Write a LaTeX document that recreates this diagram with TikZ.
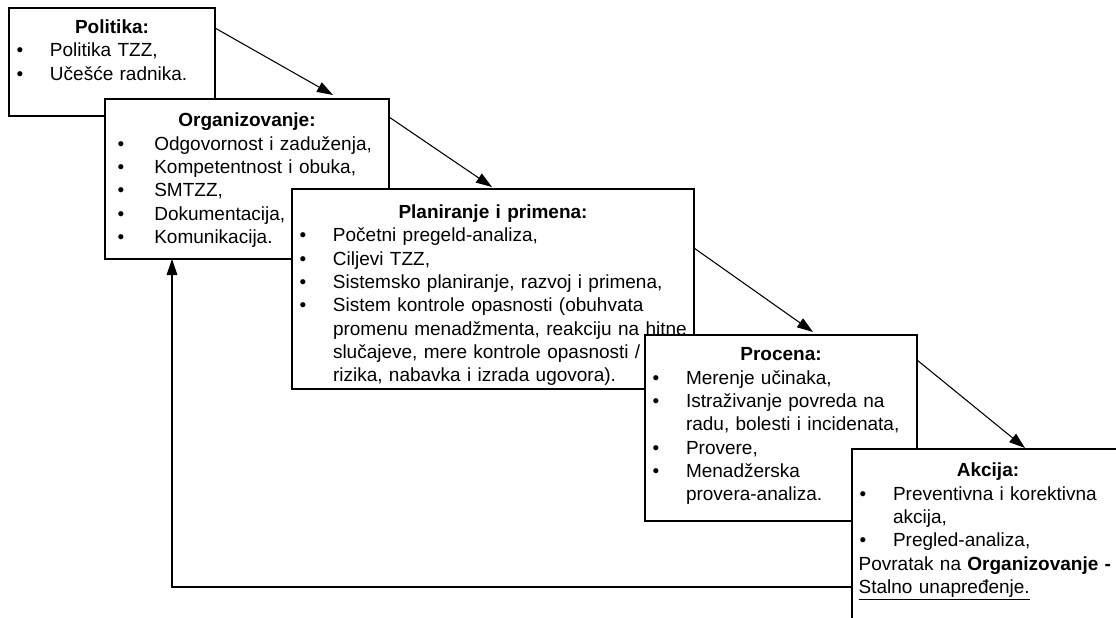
\documentclass[tikz,border=0pt]{standalone}
\usepackage{fontspec}
\setmainfont{Liberation Sans}
\usetikzlibrary{arrows.meta,positioning,calc}
\tikzset{
  box/.style={draw=black, line width=0.8pt, fill=white, anchor=north west, outer sep=0pt,
    inner xsep=4pt, inner ysep=0pt, align=left, font=\fontsize{14.25}{17.5}\selectfont},
  arrow/.style={-{Triangle[length=12pt,width=8pt]}, line width=0.8pt},
}
\newcommand{\bul}[1][1.75pt]{\makebox[26.75pt][l]{\hspace{#1}\textbullet}}
\newcommand{\cont}{\hspace*{26.75pt}}
\newcommand{\ttl}[1]{\hfill\textbf{#1}\hfill\null}

\begin{document}
\begin{tikzpicture}[x=0.75pt,y=-0.75pt]
  \useasboundingbox (0,0) rectangle (1116,617);
  \clip (0,0) rectangle (1116,617);

  % the five steps
  \node[box, text width=146.5pt, text height=19.1pt, text depth=61.9pt] (pol) at (9,8)
    {\ttl{Politika:}\\
     \bul Politika TZZ,\\
     \bul Učešće radnika.};
  \node[box, inner xsep=5.5pt, text width=202pt, text height=20.9pt, text depth=99.1pt] (org) at (105,99)
    {\ttl{Organizovanje:}\\
     \bul[4pt] Odgovornost i zaduženja,\\
     \bul[4pt] Kompetentnost i obuka,\\
     \bul[4pt] SMTZZ,\\
     \bul[4pt] Dokumentacija,\\
     \bul[4pt] Komunikacija.};
  \node[box, text width=293.5pt, text height=22.1pt, text depth=127.9pt] (plan) at (292,189)
    {\ttl{Planiranje i primena:}\\
     \bul Početni pregeld-analiza,\\
     \bul Ciljevi TZZ,\\
     \bul Sistemsko planiranje, razvoj i primena,\\
     \bul Sistem kontrole opasnosti (obuhvata\\
     \cont promenu menadžmenta, reakciju na hitne\\
     \cont slučajeve, mere kontrole opasnosti /\\
     \cont rizika, nabavka i izrada ugovora).};
  \node[box, text width=196pt, text height=19.4pt, text depth=120.1pt] (proc) at (645,335)
    {\ttl{Procena:}\\
     \bul Merenje učinaka,\\
     \bul Istraživanje povreda na\\
     \cont radu, bolesti i incidenata,\\
     \bul Provere,\\
     \bul Menadžerska\\
     \cont provera-analiza.};
  \node[box, text width=196pt, text height=20.9pt, text depth=129.1pt] (akc) at (852,449)
    {\ttl{Akcija:}\\
     \bul Preventivna i korektivna\\
     \cont akcija,\\
     \bul Pregled-analiza,\\
     \hspace*{1pt}Povratak na \textbf{Organizovanje -}\\
     \hspace*{1pt}\underline{Stalno unapređenje.}};

  % arrows
  \draw[arrow] ([yshift=-15pt]pol.north east) -- ([xshift=171pt,yshift=3pt]org.north west);
  \draw[arrow] ([yshift=-13.5pt]org.north east) -- ([xshift=150pt,yshift=1.5pt]plan.north west);
  \draw[arrow] ([yshift=-44.25pt]plan.north east) -- ([xshift=126pt,yshift=2.25pt]proc.north west);
  \draw[arrow] ([yshift=-18.75pt]proc.north east) -- ([xshift=129.75pt,yshift=0.75pt]akc.north west);
  \draw[arrow] ([yshift=-103.5pt]akc.north west) -| ([xshift=50.25pt]org.south west);
\end{tikzpicture}
\end{document}
